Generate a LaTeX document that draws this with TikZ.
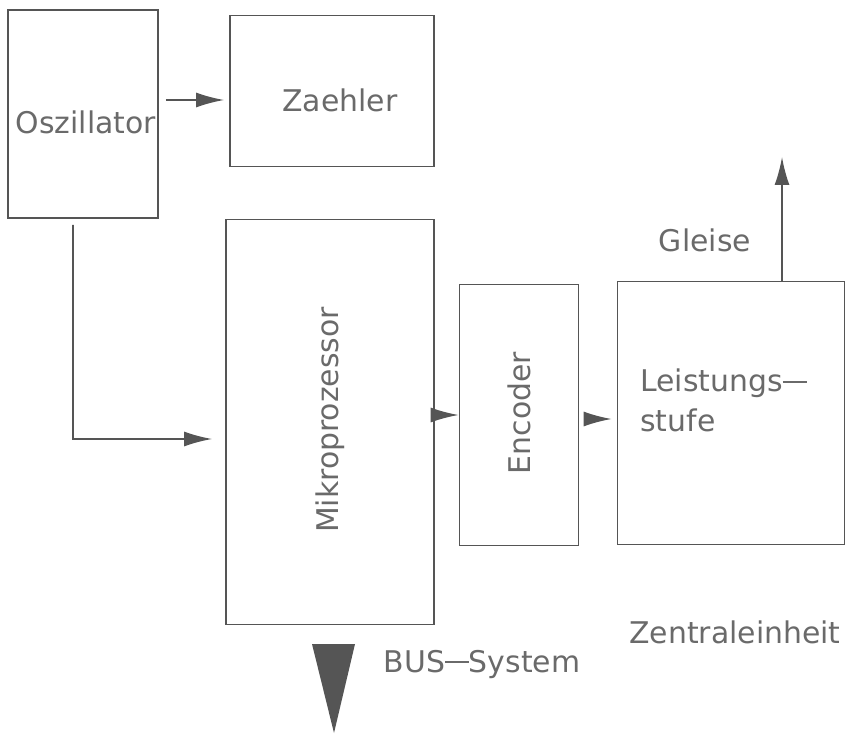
\documentclass[tikz,border=0pt]{standalone}
\usepackage{fontspec}
\setmainfont{DejaVu Sans}
\usepackage{tikz}
\usetikzlibrary{positioning,arrows.meta}

\definecolor{plotgray}{HTML}{555555}
\definecolor{textgray}{HTML}{6A6A6A}

\tikzset{
  block/.style = {draw = plotgray, line width = 1pt, inner sep = 0pt},
  arr/.style = {draw = plotgray, line width = 1pt,
                -{Latex[length = 0.56cm, width = 0.3cm]}},
  lbl/.style = {text = textgray, inner sep = 0pt, font = \fontsize{17}{21}\selectfont}
}

\begin{document}
\begin{tikzpicture}[x = 0.02cm, y = -0.02cm]
    \useasboundingbox (0,0) rectangle (855,736);

    % blocks
    \node [block, minimum width = 3cm, minimum height = 4.16cm] (osz) at (83,114) {};
    \node [block, minimum width = 4.08cm, minimum height = 3.02cm] (zaehler) at (332,91) {};
    \node [block, minimum width = 4.16cm, minimum height = 8.1cm] (mikro) at (330,422) {};
    \node [block, minimum width = 2.38cm, minimum height = 5.22cm] (enc) at (519,415) {};
    \node [block, minimum width = 4.54cm, minimum height = 5.26cm] (leist) at (731,413) {};

    % texts
    \node [lbl] (osztxt) at (86,122) {Oszillator};
    \node [lbl] (zaehlertxt) at (340,100) {Zaehler};
    \node [lbl, rotate = 90] (mikrotxt) at (330,420) {Mikroprozessor};
    \node [lbl, rotate = 90] (enctxt) at (519,413) {Encoder};
    \node [lbl, anchor = west, align = left] (leisttxt) at (640,400) {Leistungs\raisebox{0.26em}{\rule{0.8em}{0.07em}}\\[0.1em]stufe};
    \node [lbl] (gleisetxt) at (705,240) {Gleise};
    \node [lbl] (zentral) at (735,632) {Zentraleinheit};
    \node [lbl] (bustxt) at (482,665) {BUS\raisebox{0.33em}{\rule{0.8em}{0.07em}}System};

    % connectors
    \coordinate (gleis) at (782,157);
    \coordinate (oszbend) at (73,439);
    \draw [arr, shorten <= 0.14cm, shorten >= 0.1cm] ([yshift = 0.28cm]osz.east) -- ([yshift = 0.28cm]osz.east -| zaehler.west);
    \draw [arr, shorten <= 0.12cm, shorten >= 0.26cm] ([xshift = -0.2cm]osz.south) -- (oszbend) -- (oszbend -| mikro.west);
    \draw [arr] (mikro.east |- enc.west) -- (enc.west);
    \draw [arr, shorten <= 0.1cm, shorten >= 0.1cm] ([yshift = -0.08cm]enc.east) -- ([yshift = -0.08cm]enc.east -| leist.west);
    \draw [arr] (leist.north -| gleis) -- (gleis);

    % bus
    \fill [plotgray] (312,644) -- (355,644) -- (334,733) -- cycle;
\end{tikzpicture}
\end{document}
